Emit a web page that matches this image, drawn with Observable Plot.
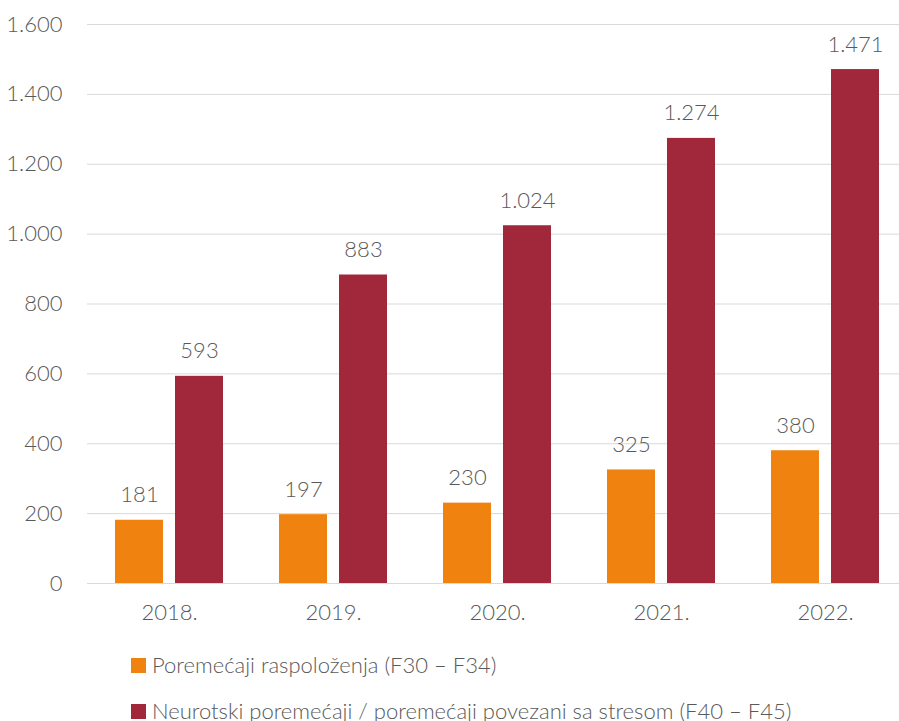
<!DOCTYPE html>
<html>
<head>
<meta charset="utf-8">
<script src="https://cdn.jsdelivr.net/npm/d3@7"></script>
<script src="https://cdn.jsdelivr.net/npm/@observablehq/plot@0.6"></script>
<style>
  html, body { margin: 0; padding: 0; background: #fff; overflow: hidden; width: 899px; height: 721px; }
  #chart { position: absolute; left: 0; top: 0; width: 908px; }
  #chart svg { max-width: none !important; }
  .legend { position: absolute; left: 131px; font-family: Lato, sans-serif; font-weight: 300; font-size: 22px; color: #595959; display: flex; align-items: center; white-space: nowrap; line-height: 26px; }
  .legend .sw { width: 15px; height: 15px; margin-right: 6px; display: inline-block; }
</style>
</head>
<body>
<div id="chart"></div>
<div class="legend" id="leg1" style="top: 652px;"><span class="sw" style="background:#F0820F"></span><span>Poremećaji raspoloženja (F30 – F34)</span></div>
<div class="legend" id="leg2" style="top: 698px;"><span class="sw" style="background:#A0283A"></span><span>Neurotski poremećaji / poremećaji povezani sa stresom (F40 – F45)</span></div>
<script>
const years = ["2018", "2019", "2020", "2021", "2022"];
const seriesNames = ["Poremećaji raspoloženja (F30 – F34)", "Neurotski poremećaji / poremećaji povezani sa stresom (F40 – F45)"];
const moodValues = [181, 197, 230, 325, 380];
const neuroValues = [593, 883, 1024, 1274, 1471];
const yTicks = [0, 200, 400, 600, 800, 1000, 1200, 1400, 1600];
const colors = ["#F0820F", "#A0283A"];

const data = [];
years.forEach((y, i) => {
  data.push({year: y, series: seriesNames[0], value: moodValues[i]});
  data.push({year: y, series: seriesNames[1], value: neuroValues[i]});
});

const locale = d3.formatLocale({decimal: ",", thousands: ".", grouping: [3], currency: ["", ""]});
const fmt = locale.format(",d");

const chart = Plot.plot({
  width: 908,
  height: 635,
  marginLeft: 85,
  marginRight: 0,
  marginTop: 24,
  marginBottom: 52,
  style: {fontFamily: "Lato, sans-serif", fontWeight: 300, fontSize: "22px", color: "#595959", background: "#fff", maxWidth: "none"},
  fx: {domain: years, padding: 0, label: null, axis: null},
  x: {domain: seriesNames, paddingInner: 0.207, paddingOuter: 0.464, axis: null},
  y: {domain: [0, 1600], label: null},
  color: {domain: seriesNames, range: colors},
  marks: [
    Plot.gridY(yTicks, {stroke: "#D9D9D9", strokeOpacity: 1, strokeWidth: 1}),
    Plot.axisY(yTicks, {tickSize: 0, tickPadding: 25, tickFormat: fmt, label: null, fill: "#595959"}),
    Plot.axisFx({anchor: "bottom", tickSize: 0, tickPadding: 21, tickFormat: d => d + ".", label: null, fill: "#595959"}),
    Plot.barY(data, {fx: "year", x: "series", y: "value", fill: "series"}),
    Plot.text(data, {fx: "year", x: "series", y: "value", text: d => fmt(d.value), lineAnchor: "bottom", dy: -18, fill: "#595959", fontSize: 22})
  ]
});
document.getElementById("chart").appendChild(chart);
</script>
</body>
</html>
